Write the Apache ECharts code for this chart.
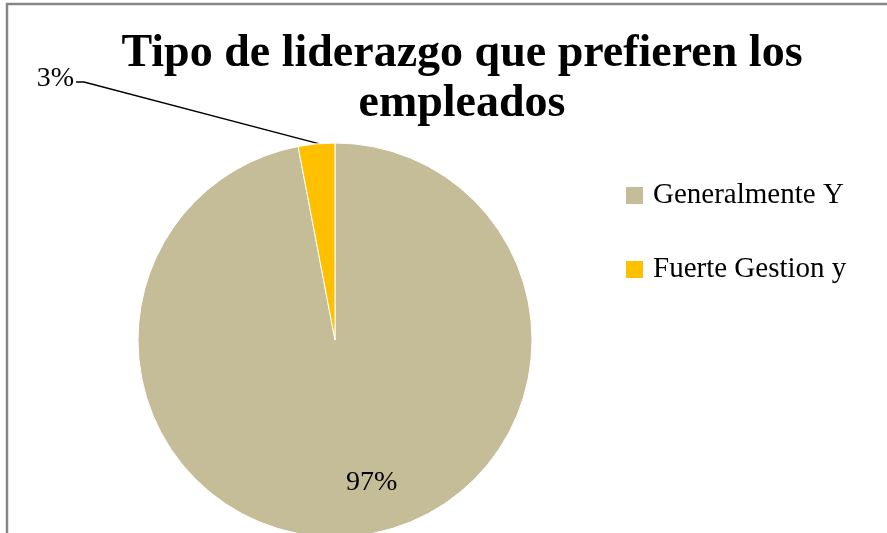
<!DOCTYPE html>
<html>
<head>
<meta charset="utf-8">
<script src="https://cdn.jsdelivr.net/npm/echarts@6/dist/echarts.min.js"></script>
<style>
  html, body { margin: 0; padding: 0; background: #fff; }
  #chart { width: 887px; height: 533px; }
</style>
</head>
<body>
<div id="chart"></div>
<script>
  const titleText = 'Tipo de liderazgo que prefieren los\nempleados'
  const categories = ['Generalmente Y', 'Fuerte Gestion y']
  const values = [97, 3]
  const colors = ['#C4BD97', '#FFC000']

  const chart = echarts.init(document.getElementById('chart'))
  const font = '"Liberation Serif", "DejaVu Serif", serif'

  const option = {
    backgroundColor: '#fff',
    animation: false,
    title: {
      text: titleText,
      left: 457,
      top: 24,
      textAlign: 'center',
      textStyle: {
        fontFamily: font,
        fontWeight: 'bold',
        fontSize: 46,
        lineHeight: 50,
        color: '#000'
      }
    },
    legend: {
      orient: 'vertical',
      left: 619,
      top: 176,
      itemWidth: 19,
      itemHeight: 19,
      itemGap: 45,
      icon: 'rect',
      textStyle: {
        fontFamily: font,
        fontSize: 29,
        color: '#000',
        padding: [0, 0, 0, 4]
      },
      data: categories
    },
    graphic: [
      {
        type: 'rect',
        shape: { x: 7, y: 4, width: 900, height: 600 },
        style: { fill: 'none', stroke: '#868686', lineWidth: 2.5 },
        silent: true
      }
    ],
    series: [
      {
        type: 'pie',
        center: [335, 340],
        radius: 197,
        startAngle: 90,
        clockwise: true,
        itemStyle: { borderColor: '#fff', borderWidth: 1 },
        label: {
          formatter: '{d}%',
          fontFamily: font,
          fontSize: 28,
          color: '#000'
        },
        labelLine: {
          lineStyle: { color: '#000', width: 1.5 }
        },
        labelLayout: (params) => {
          if (params.dataIndex === 0) {
            return { dx: 27, dy: 42 }
          }
          const p = params.labelLinePoints
          const start = p ? [p[0][0] + 3, p[0][1]] : [321, 144]
          return {
            x: 74,
            y: 79,
            labelLinePoints: [start, [84, 82], [76, 82]]
          }
        },
        data: categories.map((name, i) => ({
          name: name,
          value: values[i],
          itemStyle: { color: colors[i] },
          label: i === 0 ? { position: 'inside' } : { position: 'outside' },
          labelLine: { show: i !== 0, length: 20, length2: 10 }
        }))
      }
    ]
  }

  chart.setOption(option)
  window.onresize = () => {
    chart.resize()
  }
</script>
</body>
</html>
